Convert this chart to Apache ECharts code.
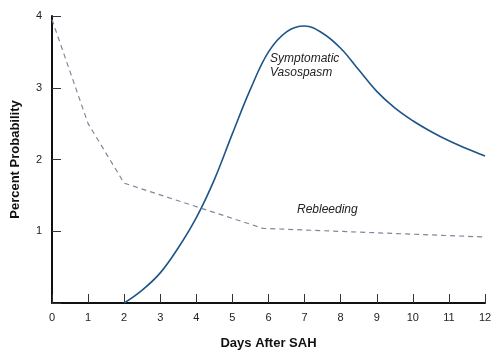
<!DOCTYPE html>
<html>
<head>
<meta charset="utf-8">
<script src="https://cdn.jsdelivr.net/npm/echarts@6/dist/echarts.min.js"></script>
<style>html,body{margin:0;padding:0;background:#fff}#c{width:500px;height:357px}</style>
</head>
<body>
<div id="c"></div>
<script>
var xTicks = [0,1,2,3,4,5,6,7,8,9,10,11,12];
var yTicks = [1,2,3,4];
var vasoDays = [2,2.5,3,3.5,4,4.5,5,5.5,6,6.5,7,7.5,8,8.5,9,9.5,10,10.5,11,11.5,12];
var vasoValues = [0,0.18,0.42,0.77,1.19,1.72,2.36,2.98,3.5,3.78,3.86,3.76,3.55,3.25,2.95,2.72,2.54,2.39,2.26,2.15,2.05];
var rebleedDays = [0,1,2,5.85,12];
var rebleedValues = [3.95,2.5,1.67,1.04,0.92];
var labels = ["Symptomatic","Vasospasm","Rebleeding"];

function pairs(xs, ys){ return xs.map(function(x,i){ return [x, ys[i]]; }); }

var chart = echarts.init(document.getElementById('c'));
chart.setOption({
  animation:false,
  backgroundColor:'#fff',
  grid:{left:52,right:15,top:16,bottom:54},
  xAxis:{
    type:'value',min:0,max:12,interval:1,
    name:'Days After SAH',nameLocation:'middle',nameGap:34,
    nameTextStyle:{fontFamily:'Liberation Sans',fontWeight:'bold',fontSize:13,color:'#111'},
    axisLine:{show:true,lineStyle:{color:'#111',width:2}},
    axisTick:{show:true,inside:true,length:9,lineStyle:{color:'#333',width:1}},
    axisLabel:{fontFamily:'Liberation Sans',fontSize:11,color:'#222',margin:9},
    splitLine:{show:false}
  },
  yAxis:{
    type:'value',min:0,max:4,interval:1,
    name:'Percent Probability',nameLocation:'middle',nameGap:30,
    nameTextStyle:{fontFamily:'Liberation Sans',fontWeight:'bold',fontSize:13,color:'#111'},
    axisLine:{show:true,lineStyle:{color:'#111',width:2}},
    axisTick:{show:true,inside:true,length:9,lineStyle:{color:'#333',width:1}},
    axisLabel:{fontFamily:'Liberation Sans',fontSize:11,color:'#222',margin:10,
      formatter:function(v){ return yTicks.indexOf(v) >= 0 ? String(v) : ''; }},
    splitLine:{show:false}
  },
  series:[
    {type:'line',data:pairs(vasoDays,vasoValues),smooth:0.4,showSymbol:false,
     lineStyle:{color:'#1d5588',width:1.6}},
    {type:'line',data:pairs(rebleedDays,rebleedValues),smooth:false,showSymbol:false,
     lineStyle:{color:'#7d879a',width:1.2,type:[5,4]}}
  ],
  graphic:[
    {type:'text',left:270,top:53,style:{text:labels[0],font:'italic 12px "Liberation Sans"',fill:'#222'}},
    {type:'text',left:270,top:67,style:{text:labels[1],font:'italic 12px "Liberation Sans"',fill:'#222'}},
    {type:'text',left:297,top:204,style:{text:labels[2],font:'italic 12px "Liberation Sans"',fill:'#222'}}
  ]
});
</script>
</body>
</html>
